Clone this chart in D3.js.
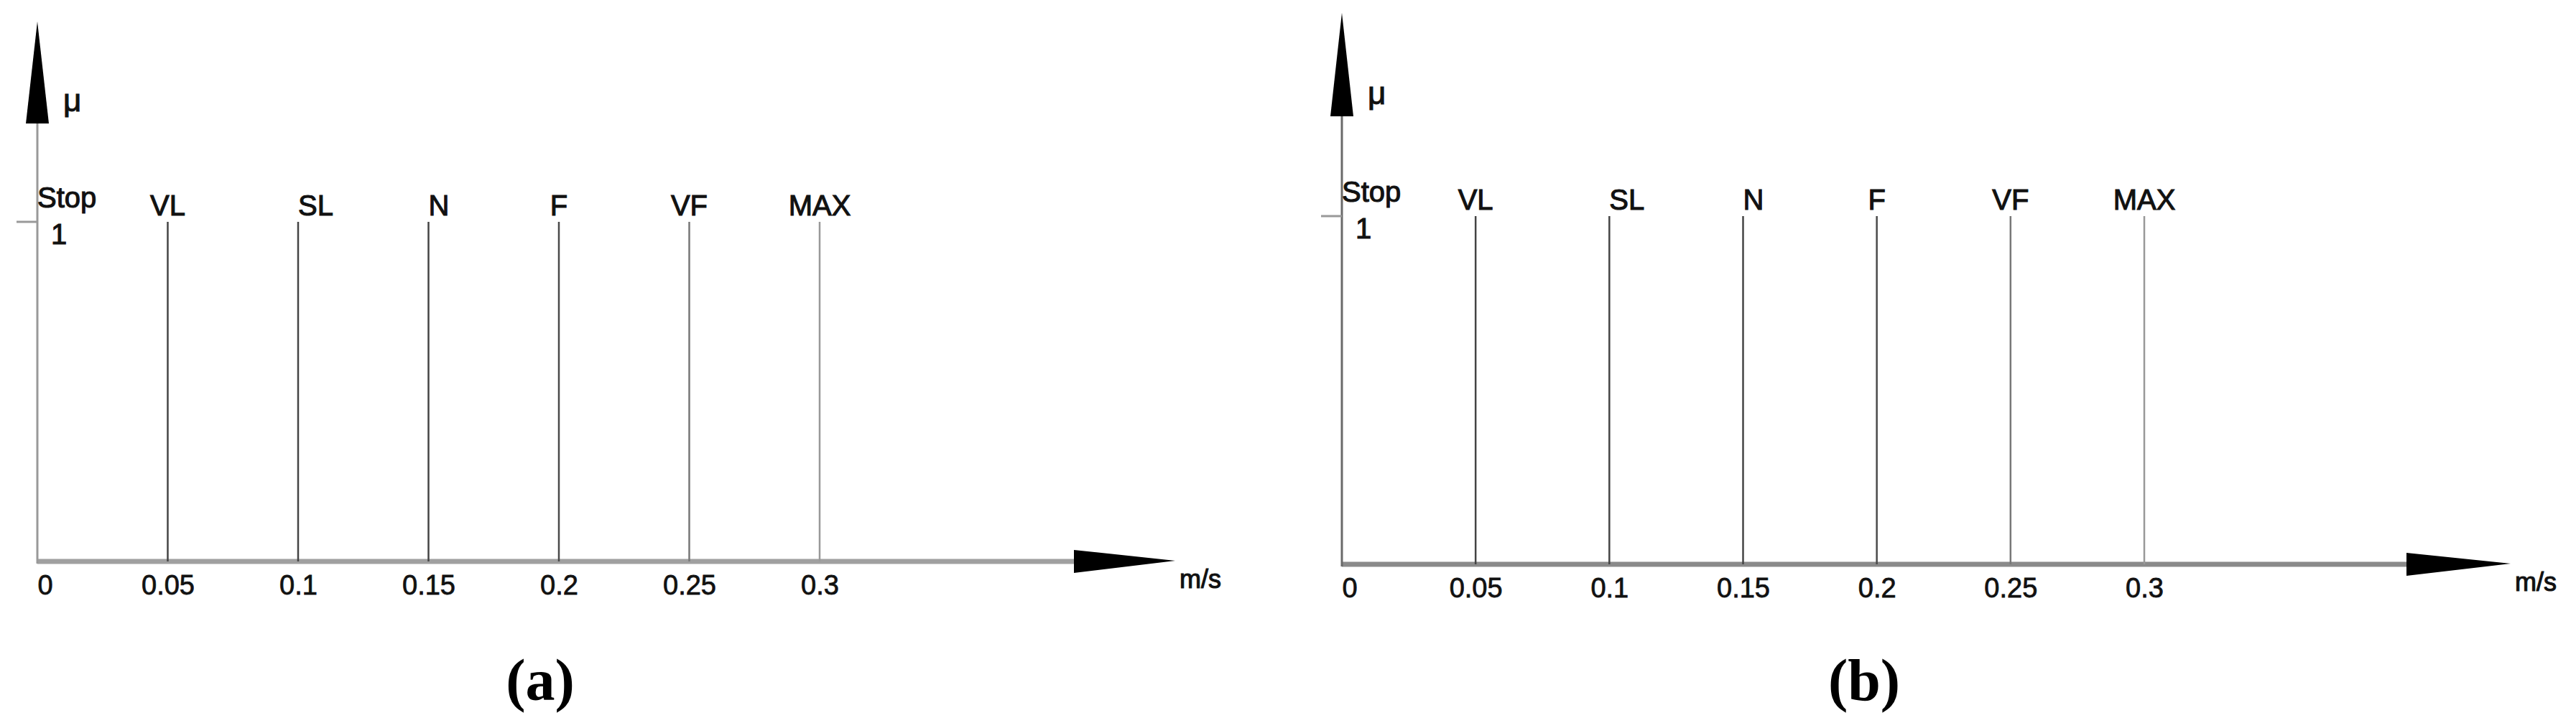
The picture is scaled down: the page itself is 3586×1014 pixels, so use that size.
<!DOCTYPE html>
<html>
<head>
<meta charset="utf-8">
<script src="https://cdn.jsdelivr.net/npm/d3@7/dist/d3.min.js"></script>
<style>
  body { margin: 0; background: #fff; }
  .lbl { font-family: "Liberation Sans", Arial, sans-serif; fill: #111; stroke: #111; stroke-width: 1.1px; }
  .ticklbl text { font-family: "Liberation Sans", Arial, sans-serif; fill: #111; stroke: #111; stroke-width: 0.8px; }
  .caption { font-family: "Liberation Serif", "Times New Roman", serif; font-weight: bold; fill: #000; }
</style>
</head>
<body>
<div id="chart"></div>
<script>
// speed levels (m/s) and their names
var speeds = [0.05, 0.1, 0.15, 0.2, 0.25, 0.3];
var speedNames = ['VL', 'SL', 'N', 'F', 'VF', 'MAX'];
var xTickValues = [0, 0.05, 0.1, 0.15, 0.2, 0.25, 0.3];
var muLevel = 1;
var captions = ['(a)', '(b)'];

var width = 3586, height = 1014;

// layout of each of the two panels
var panelLayout = [
  { x0: 52, x1: 1141, y0: 782, y1: 309, arrowX: 1495, arrowTipX: 1636, arrowYBase: 172, arrowYTip: 30, capX: 752,
    xAxisColor: '#a0a0a0', yAxisColor: '#999' },
  { x0: 1868, x1: 2985, y0: 786, y1: 301, arrowX: 3350, arrowTipX: 3495, arrowYBase: 162, arrowYTip: 18, capX: 2595,
    xAxisColor: '#8a8a8a', yAxisColor: '#6a6a6a' }
];

var lineColors = ['#444', '#444', '#444', '#4a4a4a', '#777', '#999'];
var nameAnchor = ['middle', 'start', 'start', 'middle', 'middle', 'middle'];

var svg = d3.select('#chart').append('svg')
  .attr('width', width)
  .attr('height', height);

function drawPanel(p, i) {
  var g = svg.append('g').attr('class', 'panel');

  var x = d3.scaleLinear().domain([0, 0.3]).range([p.x0, p.x1]);
  var y = d3.scaleLinear().domain([0, 1]).range([p.y0, p.y1]);

  // x axis line + arrow
  g.append('line')
    .attr('x1', x(0)).attr('x2', p.arrowX + 2)
    .attr('y1', y(0)).attr('y2', y(0))
    .attr('stroke', p.xAxisColor)
    .attr('stroke-width', 7);

  g.append('path')
    .attr('d', 'M' + p.arrowX + ',' + (y(0) - 16) + 'L' + p.arrowTipX + ',' + (y(0) - 1) +
               'L' + p.arrowX + ',' + (y(0) + 16) + 'Z')
    .attr('fill', '#000');

  // y axis line + arrow
  g.append('line')
    .attr('x1', x(0)).attr('x2', x(0))
    .attr('y1', y(0) + 3).attr('y2', p.arrowYBase)
    .attr('stroke', p.yAxisColor)
    .attr('stroke-width', 3);

  g.append('path')
    .attr('d', 'M' + (x(0) - 16) + ',' + p.arrowYBase + 'L' + x(0) + ',' + p.arrowYTip +
               'L' + (x(0) + 16) + ',' + p.arrowYBase + 'Z')
    .attr('fill', '#000');

  // tick at mu = 1
  g.append('line')
    .attr('x1', x(0) - 29).attr('x2', x(0))
    .attr('y1', y(muLevel)).attr('y2', y(muLevel))
    .attr('stroke', '#999')
    .attr('stroke-width', 3);

  // x tick labels
  var axis = g.append('g')
    .attr('class', 'ticklbl')
    .attr('transform', 'translate(0,' + y(0) + ')')
    .call(d3.axisBottom(x)
      .tickValues(xTickValues)
      .tickSize(0)
      .tickPadding(19)
      .tickFormat(function(d) { return d3.format('')(d); }));
  axis.select('.domain').remove();
  axis.selectAll('text')
    .attr('font-size', 38)
    .attr('text-anchor', function(d) { return d === 0 ? 'start' : 'middle'; });

  // vertical speed level lines
  g.selectAll('.speed')
    .data(speeds)
    .enter().append('line')
    .attr('class', 'speed')
    .attr('x1', function(d) { return x(d); })
    .attr('x2', function(d) { return x(d); })
    .attr('y1', y(muLevel))
    .attr('y2', y(0))
    .attr('stroke', function(d, j) { return lineColors[j]; })
    .attr('stroke-width', 2.5);

  g.selectAll('.speedName')
    .data(speeds)
    .enter().append('text')
    .attr('class', 'lbl speedName')
    .attr('x', function(d) { return x(d); })
    .attr('y', y(muLevel) - 9)
    .attr('font-size', 40)
    .attr('text-anchor', function(d, j) { return nameAnchor[j]; })
    .text(function(d, j) { return speedNames[j]; });

  g.append('text')
    .attr('class', 'lbl')
    .attr('x', x(0))
    .attr('y', y(muLevel) - 20)
    .attr('font-size', 40)
    .text('Stop');

  g.append('text')
    .attr('class', 'lbl')
    .attr('x', x(0) + 30)
    .attr('y', y(muLevel) + 31)
    .attr('font-size', 40)
    .attr('text-anchor', 'middle')
    .text(muLevel);

  g.append('text')
    .attr('class', 'lbl')
    .attr('x', x(0) + 36)
    .attr('y', p.arrowYBase - 17)
    .attr('font-size', 44)
    .text('μ');

  g.append('text')
    .attr('class', 'lbl')
    .attr('x', p.arrowTipX + 6)
    .attr('y', y(0) + 37)
    .attr('font-size', 36)
    .text('m/s');

  svg.append('text')
    .attr('class', 'caption')
    .attr('x', p.capX)
    .attr('y', 975)
    .attr('font-size', 82)
    .attr('text-anchor', 'middle')
    .text(captions[i]);
}

panelLayout.forEach(drawPanel);
</script>
</body>
</html>
